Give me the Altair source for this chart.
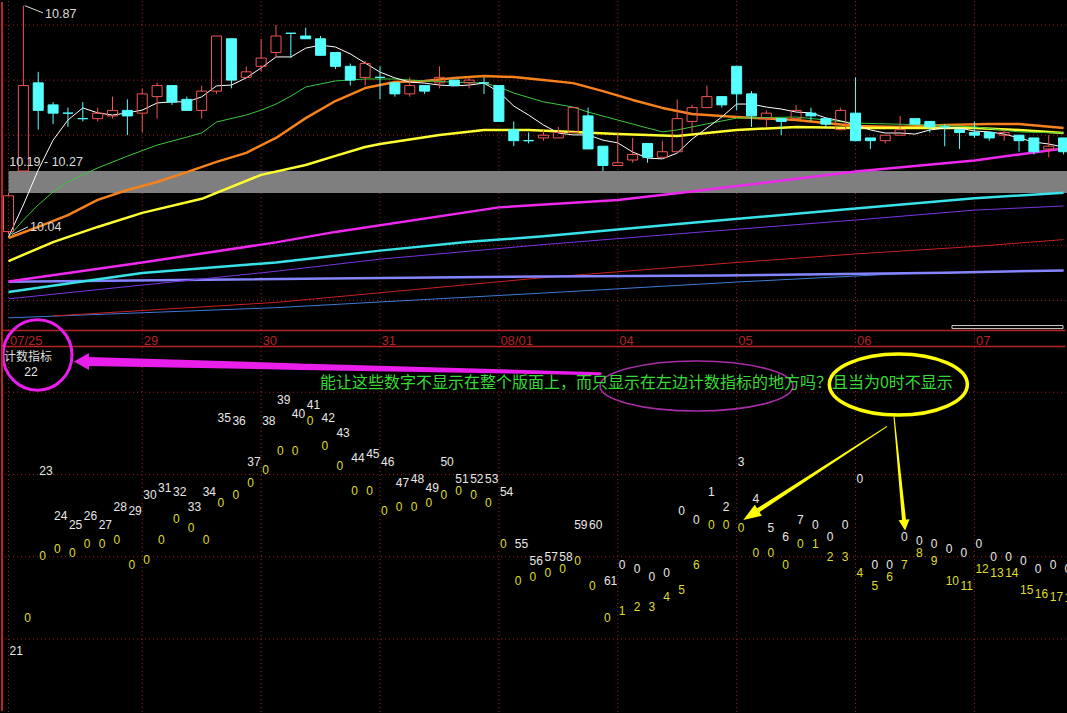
import altair as alt
import pandas as pd

# ---------------------------------------------------------------------------
# Layout (pixels) and scale domains
# ---------------------------------------------------------------------------
W = 1067
H_TOP, H_STRIP, H_BOT = 330, 17, 366

X_DOMAIN = [-0.572, 71.23]          # bar index across the panel
PRICE_DOMAIN = [9.6929, 10.8907]    # price panel
LEVEL_DOMAIN = [1.0, 45.5]          # counter panel

RED = "#f25555"
CYAN = "#55ffff"
GRID = "#a01e1e"
FRAME = "#b82424"
DATE_RED = "#b52222"
LABEL = "#dcdcdc"
WHITE_NUM = "#e8e8e8"
YELLOW_NUM = "#dede2a"
MAGENTA = "#ea1eea"
ARROW_YELLOW = "#ffff00"
NUM_FONT = "Liberation Sans"
CJK_FONT = "Noto Sans CJK SC"

# ---------------------------------------------------------------------------
# 30-minute bars, bar 0 = first bar of 07/25
# ---------------------------------------------------------------------------
opens = [10.05, 10.27, 10.59, 10.51, 10.48, 10.46, 10.46, 10.47, 10.49, 10.48,
         10.54, 10.58, 10.53, 10.49, 10.56, 10.75, 10.61, 10.65, 10.70, 10.77,
         10.76, 10.75, 10.70, 10.65, 10.61, 10.61, 10.59, 10.55, 10.58, 10.59,
         10.60, 10.59, 10.59, 10.58, 10.42, 10.38, 10.39, 10.39, 10.41, 10.47,
         10.36, 10.29, 10.31, 10.37, 10.32, 10.34, 10.45, 10.50, 10.54, 10.65,
         10.55, 10.46, 10.46, 10.46, 10.48, 10.46, 10.42, 10.48, 10.39, 10.38,
         10.40, 10.46, 10.45, 10.43, 10.42, 10.41, 10.41, 10.40, 10.40, 10.39,
         10.35, 10.39]
highs = [10.19, 10.87, 10.63, 10.52, 10.50, 10.52, 10.50, 10.54, 10.53, 10.57,
         10.59, 10.58, 10.54, 10.58, 10.76, 10.75, 10.65, 10.75, 10.80, 10.77,
         10.79, 10.76, 10.70, 10.66, 10.67, 10.65, 10.59, 10.61, 10.58, 10.65,
         10.60, 10.61, 10.61, 10.58, 10.45, 10.41, 10.42, 10.43, 10.50, 10.50,
         10.36, 10.41, 10.39, 10.37, 10.38, 10.53, 10.51, 10.58, 10.54, 10.65,
         10.56, 10.49, 10.46, 10.51, 10.50, 10.46, 10.50, 10.61, 10.39, 10.40,
         10.47, 10.46, 10.45, 10.44, 10.42, 10.45, 10.41, 10.42, 10.40, 10.39,
         10.40, 10.39]
lows = [10.04, 10.27, 10.42, 10.44, 10.43, 10.45, 10.45, 10.46, 10.40, 10.41,
        10.46, 10.51, 10.49, 10.46, 10.55, 10.57, 10.61, 10.63, 10.68, 10.68,
        10.75, 10.69, 10.64, 10.58, 10.58, 10.53, 10.54, 10.54, 10.55, 10.57,
        10.58, 10.57, 10.55, 10.45, 10.36, 10.37, 10.38, 10.39, 10.41, 10.35,
        10.27, 10.29, 10.30, 10.30, 10.32, 10.34, 10.41, 10.50, 10.50, 10.49,
        10.43, 10.43, 10.40, 10.46, 10.45, 10.43, 10.42, 10.38, 10.35, 10.37,
        10.40, 10.44, 10.41, 10.36, 10.35, 10.39, 10.38, 10.38, 10.34, 10.33,
        10.32, 10.33]
closes = [10.18, 10.58, 10.49, 10.48, 10.48, 10.46, 10.48, 10.49, 10.47, 10.55,
          10.58, 10.52, 10.49, 10.56, 10.76, 10.60, 10.63, 10.68, 10.76, 10.77,
          10.75, 10.69, 10.65, 10.60, 10.66, 10.61, 10.55, 10.58, 10.56, 10.61,
          10.58, 10.60, 10.59, 10.45, 10.38, 10.38, 10.40, 10.41, 10.50, 10.35,
          10.29, 10.30, 10.33, 10.32, 10.34, 10.46, 10.50, 10.54, 10.51, 10.55,
          10.47, 10.48, 10.45, 10.49, 10.47, 10.44, 10.49, 10.38, 10.38, 10.40,
          10.42, 10.44, 10.43, 10.43, 10.41, 10.40, 10.39, 10.41, 10.38, 10.34,
          10.36, 10.34]

# ---------------------------------------------------------------------------
# Moving averages: bar index + value
# ---------------------------------------------------------------------------
ma_white_bars = list(range(72))
ma_white = [10.031, 10.147, 10.274, 10.382, 10.455, 10.499, 10.481, 10.473, 10.481, 10.491,
            10.517, 10.521, 10.521, 10.539, 10.579, 10.582, 10.608, 10.644, 10.684, 10.684,
            10.716, 10.727, 10.720, 10.695, 10.662, 10.629, 10.608, 10.593, 10.589, 10.582,
            10.579, 10.582, 10.589, 10.557, 10.506, 10.473, 10.437, 10.408, 10.401, 10.401,
            10.382, 10.372, 10.339, 10.317, 10.314, 10.335, 10.386, 10.426, 10.466, 10.513,
            10.513, 10.502, 10.495, 10.484, 10.481, 10.463, 10.452, 10.437, 10.419, 10.408,
            10.408, 10.404, 10.419, 10.426, 10.426, 10.415, 10.412, 10.404, 10.390, 10.375,
            10.368, 10.357]

ma_green_bars = [0, 1, 2, 3, 4, 6, 8, 10, 12, 13, 14, 16, 17, 18, 19, 20, 22, 24, 26, 28,
                 30, 32, 33, 34, 36, 38, 39, 41, 43, 44, 45, 47, 49, 53, 57, 62, 65, 68, 71]
ma_green = [10.031, 10.092, 10.147, 10.194, 10.230, 10.281, 10.324, 10.364, 10.393, 10.408,
            10.448, 10.473, 10.491, 10.513, 10.542, 10.575, 10.597, 10.604, 10.604, 10.597,
            10.593, 10.589, 10.575, 10.553, 10.521, 10.502, 10.484, 10.455, 10.426, 10.412,
            10.419, 10.441, 10.462, 10.466, 10.444, 10.437, 10.430, 10.412, 10.408]

ma_orange_bars = [0, 2, 4, 6, 8, 10, 12, 14, 16, 18, 20, 22, 24, 26, 28, 30, 32, 34, 36, 38,
                  40, 42, 44, 46, 49, 53, 57, 60, 63, 66, 68, 71]
ma_orange = [10.027, 10.067, 10.110, 10.165, 10.201, 10.230, 10.266, 10.303, 10.336, 10.390,
             10.462, 10.524, 10.571, 10.593, 10.597, 10.608, 10.615, 10.611, 10.600, 10.589,
             10.560, 10.528, 10.499, 10.477, 10.466, 10.455, 10.433, 10.430, 10.437, 10.441,
             10.441, 10.426]

ma_yellow_bars = [0, 3, 6, 9, 13, 17, 20, 22, 24, 25, 29, 32, 35, 38, 41, 45, 47, 49, 53, 57,
                  65, 68, 71]
ma_yellow = [9.943, 10.012, 10.067, 10.118, 10.169, 10.256, 10.292, 10.325, 10.357, 10.368,
             10.401, 10.419, 10.419, 10.412, 10.404, 10.397, 10.408, 10.419, 10.430, 10.426,
             10.426, 10.419, 10.408]

ma_magenta_bars = [0, 9, 18, 22, 33, 41, 46, 57, 65, 68, 71]
ma_magenta = [9.869, 9.938, 10.011, 10.049, 10.138, 10.165, 10.196, 10.268, 10.308, 10.330, 10.352]

ma_cyan_bars = [0, 9, 18, 25, 31, 36, 46, 57, 65, 71]
ma_cyan = [9.831, 9.900, 9.938, 9.981, 10.013, 10.033, 10.082, 10.134, 10.171, 10.191]

ma_purple_bars = [0, 9, 18, 25, 36, 46, 57, 65, 71]
ma_purple = [9.806, 9.856, 9.906, 9.950, 10.003, 10.046, 10.092, 10.128, 10.143]

ma_lavender_bars = [0, 36, 48, 63, 71]
ma_lavender = [9.868, 9.887, 9.891, 9.901, 9.909]

ma_red_bars = [3, 18, 36, 49, 57, 65, 71]
ma_red = [9.744, 9.793, 9.883, 9.938, 9.969, 9.996, 10.021]

ma_blue_bars = [0, 18, 36, 49, 60, 71]
ma_blue = [9.737, 9.774, 9.827, 9.867, 9.897, 9.909]

# ---------------------------------------------------------------------------
# Axis / grid values
# ---------------------------------------------------------------------------
day_bars = [0, 9, 17, 25, 33, 41, 49, 57, 65]
day_labels = ["07/25", "29", "30", "31", "08/01", "04", "05", "06", "07"]
price_grid = [10.8, 10.6, 10.4, 10.2, 10.0, 9.8]
level_grid = [10, 20, 30, 40]

band_low, band_high = 10.19, 10.27
high_mark, low_mark = 10.87, 10.04

# ---------------------------------------------------------------------------
# Counter indicator (计数指标): two counters, one label per bar
# ---------------------------------------------------------------------------
white_counts = [21, 22, 23, 24, 25, 26, 27, 28, 29, 30, 31, 32, 33, 34, 35, 36, 37, 38, 39, 40,
                41, 42, 43, 44, 45, 46, 47, 48, 49, 50, 51, 52, 53, 54, 55, 56, 57, 58, 59, 60,
                61, 0, 0, 0, 0, 0, 0, 1, 2, 3, 4, 5, 6, 7, 0, 0, 0, 0, 0, 0,
                0, 0, 0, 0, 0, 0, 0, 0, 0, 0, 0, 0]
white_levels = [8.5, 42.4, 30.4, 25.0, 23.9, 25.0, 23.9, 26.0, 25.5, 27.5,
                28.4, 27.9, 26.0, 27.9, 36.9, 36.5, 31.5, 36.5, 39.0, 37.4,
                38.5, 36.9, 35.0, 32.0, 32.5, 31.5, 29.0, 29.5, 28.4, 31.5,
                29.5, 29.5, 29.5, 27.9, 21.5, 19.5, 20.0, 20.0, 23.9, 23.9,
                17.0, 19.0, 18.5, 17.5, 18.0, 25.5, 24.5, 27.9, 26.0, 31.5,
                27.0, 23.5, 22.4, 24.5, 23.9, 22.4, 23.9, 29.5, 19.0, 19.0,
                22.4, 21.9, 21.5, 21.0, 20.5, 21.5, 20.0, 20.0, 19.5, 18.5,
                19.0, 18.5]

yellow_bars = list(range(1, 72))
yellow_counts = [0, 0, 0, 0, 0, 0, 0, 0, 0, 0, 0, 0, 0, 0, 0, 0, 0, 0, 0, 0,
                 0, 0, 0, 0, 0, 0, 0, 0, 0, 0, 0, 0, 0, 0, 0, 0, 0, 0, 0, 0,
                 1, 2, 3, 4, 5, 6, 0, 0, 0, 0, 0, 0, 0, 1, 2, 3, 4, 5, 6, 7,
                 8, 9, 10, 11, 12, 13, 14, 15, 16, 17, 18]
yellow_levels = [12.5, 20.1, 21.0, 20.5, 21.5, 21.5, 22.0, 19.0, 19.6, 22.0,
                 24.6, 23.5, 22.0, 26.5, 27.5, 29.0, 30.5, 32.9, 32.9, 36.5,
                 33.5, 31.0, 28.0, 28.0, 25.5, 26.0, 26.0, 26.5, 27.5, 28.0,
                 27.5, 26.5, 21.5, 17.0, 17.5, 18.0, 18.5, 19.5, 16.5, 12.5,
                 13.4, 13.9, 13.9, 15.1, 16.0, 19.0, 23.9, 23.9, 23.5, 20.5,
                 20.5, 19.0, 21.5, 21.5, 20.0, 20.0, 18.0, 16.5, 17.5, 19.0,
                 20.5, 19.5, 17.0, 16.5, 18.5, 18.0, 18.0, 16.0, 15.5, 15.1, 15.0]

question = "能让这些数字不显示在整个版面上，而只显示在左边计数指标的地方吗？且当为0时不显示"


# ---------------------------------------------------------------------------
# Encoding helpers
# ---------------------------------------------------------------------------
def bx(field="bar"):
    return alt.X(f"{field}:Q", scale=alt.Scale(domain=X_DOMAIN, nice=False, zero=False), axis=None)


def py(field):
    return alt.Y(f"{field}:Q", scale=alt.Scale(domain=PRICE_DOMAIN, nice=False, zero=False), axis=None)


def ly(field="lvl"):
    return alt.Y(f"{field}:Q", scale=alt.Scale(domain=LEVEL_DOMAIN, nice=False, zero=False), axis=None)


def ellipse_path(e):
    """Closed ellipse in the unit symbol box (rx = 1, ry = e)."""
    k = 0.5523
    return (f"M-1,0C-1,{-k * e:.4f} {-k},{-e:.4f} 0,{-e:.4f}"
            f"C{k},{-e:.4f} 1,{-k * e:.4f} 1,0"
            f"C1,{k * e:.4f} {k},{e:.4f} 0,{e:.4f}"
            f"C{-k},{e:.4f} -1,{k * e:.4f} -1,0Z")


def triangle_path(h):
    """Arrowhead pointing to +x in the unit symbol box, half-width h."""
    return f"M1,0L-1,{-h}L-1,{h}Z"


ONE = pd.DataFrame({"k": [0]})
days_df = pd.DataFrame({"bar": day_bars, "label": day_labels})


def left_edge(y0, y1):
    return alt.Chart(ONE).mark_rule(color=FRAME, strokeWidth=2).encode(
        x=alt.value(2), y=alt.value(y0), y2=alt.value(y1))


def day_grid(y0, y1):
    return alt.Chart(days_df).mark_rule(color=GRID, strokeDash=[1, 3], strokeWidth=1).encode(
        x=bx(), y=alt.value(y0), y2=alt.value(y1))


# ---------------------------------------------------------------------------
# Price panel
# ---------------------------------------------------------------------------
hgrid = alt.Chart(pd.DataFrame({"p": price_grid})).mark_rule(
    color=GRID, strokeDash=[1, 3], strokeWidth=1).encode(
    y=py("p"), x=alt.value(1), x2=alt.value(W - 1))

band = alt.Chart(pd.DataFrame({"x0": [0], "x1": [X_DOMAIN[1]], "lo": [band_low], "hi": [band_high]})
                 ).mark_rect(color="#7f7f7f").encode(x=bx("x0"), x2="x1:Q", y=py("lo"), y2="hi:Q")


def ma_line(bars, vals, color, width):
    df = pd.DataFrame({"bar": bars, "v": vals})
    return alt.Chart(df).mark_line(color=color, strokeWidth=width, strokeJoin="round",
                                   clip=True).encode(x=bx(), y=py("v"))


ma_layers = [
    ma_line(ma_blue_bars, ma_blue, "#3c7ad8", 1),
    ma_line(ma_red_bars, ma_red, "#c82020", 1),
    ma_line(ma_lavender_bars, ma_lavender, "#8585ff", 2.5),
    ma_line(ma_purple_bars, ma_purple, "#7a34e0", 1),
    ma_line(ma_cyan_bars, ma_cyan, "#38e2e8", 2.5),
    ma_line(ma_magenta_bars, ma_magenta, "#ee28ee", 2.5),
    ma_line(ma_orange_bars, ma_orange, "#f7821b", 2.5),
    ma_line(ma_yellow_bars, ma_yellow, "#ffff30", 2.5),
    ma_line(ma_green_bars, ma_green, "#3cc83c", 1),
    ma_line(ma_white_bars, ma_white, "#ffffff", 1),
]

candles = pd.DataFrame({"bar": list(range(72)), "o": opens, "h": highs, "l": lows, "c": closes})
candles["body_lo"] = candles[["o", "c"]].min(axis=1)
candles["body_hi"] = candles[["o", "c"]].max(axis=1)
rising = candles[candles["c"] > candles["o"]]
falling = candles[candles["c"] <= candles["o"]]

wick_rise_lo = alt.Chart(rising).mark_rule(color=RED, strokeWidth=1, clip=True).encode(
    x=bx(), y=py("l"), y2="body_lo:Q")
wick_rise_hi = alt.Chart(rising).mark_rule(color=RED, strokeWidth=1, clip=True).encode(
    x=bx(), y=py("body_hi"), y2="h:Q")
wick_fall = alt.Chart(falling).mark_rule(color=CYAN, strokeWidth=1, clip=True).encode(
    x=bx(), y=py("l"), y2="h:Q")

half_body = 0.3365
body_rise = alt.Chart(rising).transform_calculate(
    xl=f"datum.bar - {half_body}", xr=f"datum.bar + {half_body}"
).mark_rect(filled=False, color=RED, strokeWidth=1, clip=True).encode(
    x=bx("xl"), x2="xr:Q", y=py("body_lo"), y2="body_hi:Q")
body_fall = alt.Chart(falling).transform_calculate(
    xl=f"datum.bar - {half_body}", xr=f"datum.bar + {half_body}"
).mark_rect(color=CYAN, stroke=CYAN, strokeWidth=1, clip=True).encode(
    x=bx("xl"), x2="xr:Q", y=py("body_lo"), y2="body_hi:Q")

# extreme / band labels
price_labels = pd.DataFrame({
    "bar": [2.46, 1.45, 0.05],
    "p": [10.839, 10.068, 10.304],
    "t": [f"{high_mark:.2f}", f"{low_mark:.2f}", f"{band_low:.2f} - {band_high:.2f}"],
})
price_text = alt.Chart(price_labels).mark_text(
    align="left", baseline="middle", color=LABEL, font=NUM_FONT, fontSize=12.5
).encode(x=bx(), y=py("p"), text="t:N")

leaders = pd.DataFrame({
    "grp": ["hi", "hi", "lo", "lo"],
    "bar": [1.1, 2.32, 0.24, 1.31],
    "p": [high_mark, 10.844, low_mark, 10.067],
})
leader_lines = alt.Chart(leaders).mark_line(color=LABEL, strokeWidth=1).encode(
    x=bx(), y=py("p"), detail="grp:N")

scroll_box = alt.Chart(pd.DataFrame({"x0": [63.49], "x1": [70.96], "lo": [9.698], "hi": [9.709]})
                       ).mark_rect(filled=False, color="#d0d0d0", strokeWidth=1).encode(
    x=bx("x0"), x2="x1:Q", y=py("lo"), y2="hi:Q")

top = alt.layer(
    hgrid, day_grid(1, H_TOP), band, *ma_layers,
    wick_fall, wick_rise_lo, wick_rise_hi, body_fall, body_rise,
    leader_lines, price_text, scroll_box, left_edge(2, H_TOP),
).properties(width=W, height=H_TOP)

# ---------------------------------------------------------------------------
# Date strip
# ---------------------------------------------------------------------------
strip_text = alt.Chart(days_df).mark_text(
    align="left", baseline="middle", dx=1.5, color=DATE_RED, font=NUM_FONT, fontSize=13
).encode(x=bx(), y=alt.value(11.0), text="label:N")
strip_top = alt.Chart(ONE).mark_rule(color=FRAME, strokeWidth=1.5).encode(
    y=alt.value(0.5), x=alt.value(1.5), x2=alt.value(W - 1.5))
strip_bottom = alt.Chart(ONE).mark_rule(color=FRAME, strokeWidth=1.5).encode(
    y=alt.value(16.5), x=alt.value(1.5), x2=alt.value(W - 1.5))

strip = alt.layer(day_grid(0, H_STRIP), strip_text, strip_top, strip_bottom,
                  left_edge(0, H_STRIP)).properties(width=W, height=H_STRIP)

# ---------------------------------------------------------------------------
# Counter panel
# ---------------------------------------------------------------------------
lgrid = alt.Chart(pd.DataFrame({"lvl": level_grid})).mark_rule(
    color=GRID, strokeDash=[1, 3], strokeWidth=1).encode(
    y=ly(), x=alt.value(1), x2=alt.value(W - 1))

white_df = pd.DataFrame({"bar": list(range(72)), "n": [str(v) for v in white_counts], "lvl": white_levels})
yellow_df = pd.DataFrame({"bar": yellow_bars, "n": [str(v) for v in yellow_counts], "lvl": yellow_levels})

yellow_text = alt.Chart(yellow_df).mark_text(
    align="left", baseline="middle", dx=1, color=YELLOW_NUM, font=NUM_FONT, fontSize=12, clip=True
).encode(x=bx(), y=ly(), text="n:N")
white_text = alt.Chart(white_df).mark_text(
    align="left", baseline="middle", dx=1, color=WHITE_NUM, font=NUM_FONT, fontSize=12, clip=True
).encode(x=bx(), y=ly(), text="n:N")

panel_title = alt.Chart(pd.DataFrame({"bar": [-0.30], "lvl": [44.32], "t": ["计数指标"]})).mark_text(
    align="left", baseline="middle", color=LABEL, font=CJK_FONT, fontSize=12
).encode(x=bx(), y=ly(), text="t:N")

question_text = alt.Chart(pd.DataFrame({"bar": [20.96], "lvl": [41.09], "t": [question]})).mark_text(
    align="left", baseline="middle", color="#35dc35", font=CJK_FONT, fontSize=16
).encode(x=bx(), y=ly(), text="t:N")

title_ring = alt.Chart(pd.DataFrame({"bar": [1.95], "lvl": [44.53]})).mark_point(
    shape=ellipse_path(1.02), size=4761, filled=False, color=MAGENTA, strokeWidth=3,
    strokeJoin="round", opacity=1
).encode(x=bx(), y=ly())
purple_ring = alt.Chart(pd.DataFrame({"bar": [46.30], "lvl": [40.76]})).mark_point(
    shape=ellipse_path(0.259), size=37249, filled=False, color="#a82ea8", strokeWidth=1.6,
    strokeJoin="round", opacity=1
).encode(x=bx(), y=ly())
yellow_ring = alt.Chart(pd.DataFrame({"bar": [59.88], "lvl": [40.94]})).mark_point(
    shape=ellipse_path(0.442), size=19044, filled=False, color=ARROW_YELLOW, strokeWidth=3.5,
    strokeJoin="round", opacity=1
).encode(x=bx(), y=ly())

# tapered arrow shafts
shafts = pd.DataFrame({
    "grp": ["m", "m", "m", "y1", "y1", "y2", "y2"],
    "ord": [0, 1, 2, 0, 1, 0, 1],
    "bar": [5.35, 19.62, 39.81, 59.10, 50.46, 59.59, 60.26],
    "lvl": [43.74, 43.11, 42.26, 35.81, 25.66, 37.03, 24.49],
    "w": [9, 6.5, 3, 1, 4.5, 1, 4],
    "col": [MAGENTA] * 3 + [ARROW_YELLOW] * 4,
})
arrow_shafts = alt.Chart(shafts).mark_trail().encode(
    x=bx(), y=ly(),
    size=alt.Size("w:Q", scale=None, legend=None),
    color=alt.Color("col:N", scale=None, legend=None),
    detail="grp:N",
    order="ord:Q",
)


def arrow_head(bar, lvl, half_width, size, angle, color):
    return alt.Chart(pd.DataFrame({"bar": [bar], "lvl": [lvl]})).mark_point(
        shape=triangle_path(half_width), size=size, angle=angle, filled=True,
        color=color, opacity=1, strokeWidth=0
    ).encode(x=bx(), y=ly())


heads = [
    arrow_head(4.91, 43.73, 1.13, 225, 180, MAGENTA),
    arrow_head(49.95, 25.06, 0.72, 324, 147, ARROW_YELLOW),
    arrow_head(60.30, 23.84, 1.0, 121, 84.5, ARROW_YELLOW),
]

bottom = alt.layer(
    lgrid, day_grid(0, H_BOT - 1), yellow_text, white_text,
    arrow_shafts, *heads, purple_ring, question_text, yellow_ring, title_ring, panel_title,
    left_edge(0, H_BOT - 2),
).properties(width=W, height=H_BOT)

chart = alt.vconcat(top, strip, bottom, spacing=0, bounds="flush").properties(
    background="#000000", padding=0
).configure_view(stroke=None)

chart.save("out.html", embed_options={"renderer": "svg", "actions": False})
